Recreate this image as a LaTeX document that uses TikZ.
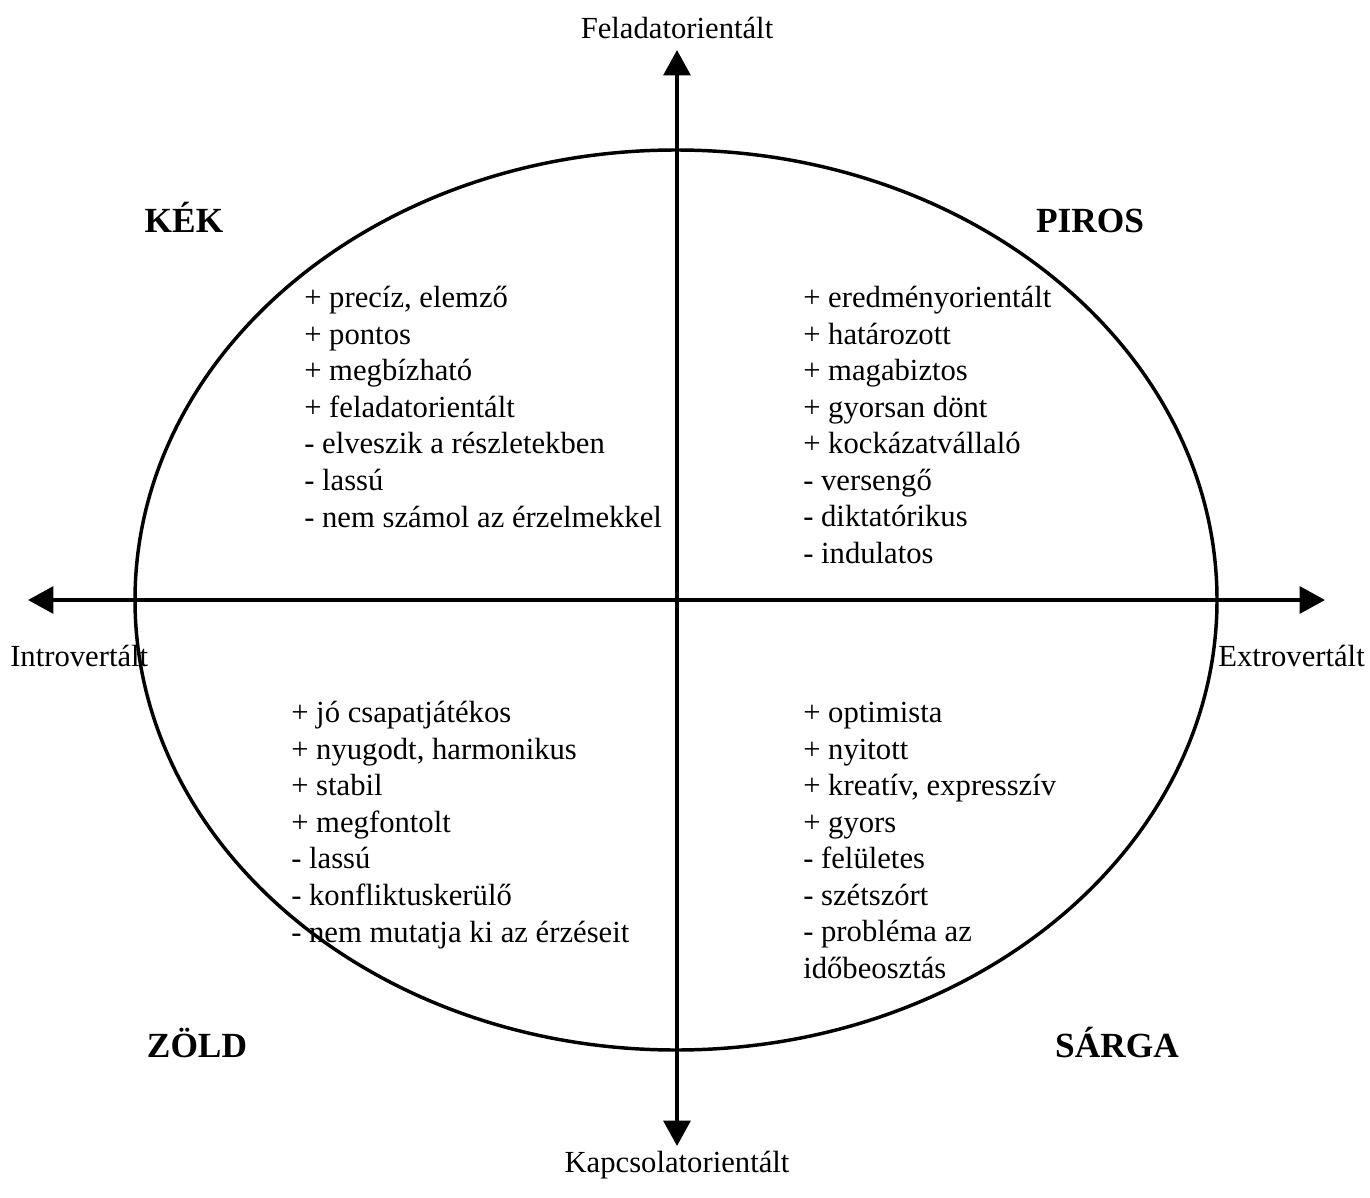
\documentclass[tikz,border=0pt]{standalone}
\usepackage{fontspec}
\setmainfont{Liberation Serif}
\usetikzlibrary{arrows.meta}
\begin{document}
\begin{tikzpicture}[x=0.75pt,y=-0.75pt,
  axis/.style={line width=3pt, -{Triangle[length=19pt,width=20pt]}},
  oval/.style={line width=2.6pt},
  lbl/.style={inner sep=0pt, font=\fontsize{23}{27}\selectfont},
  head/.style={inner sep=0pt, anchor=base, font=\fontsize{26.5}{30}\selectfont\bfseries},
  list/.style={inner sep=0pt, anchor=base west, align=left, font=\fontsize{23}{27.4}\selectfont}]
\useasboundingbox (0,0) rectangle (1370,1198);
% ellipse
\draw[oval] (676,600) ellipse [x radius=541, y radius=450];
% axes
\coordinate (top) at (677,50);
\coordinate (bot) at (677,1146);
\coordinate (left) at (28,600);
\coordinate (right) at (1325,600);
\coordinate (c) at (677,600);
\draw[axis] (c) -- (top);
\draw[axis] (c) -- (bot);
\draw[axis] (c) -- (left);
\draw[axis] (c) -- (right);
% axis labels
\node[lbl] (fel) at (677,28) {Feladatorientált};
\node[lbl] (kap) at (677,1165) {Kapcsolatorientált};
\node[lbl, anchor=west] (intro) at (10,656) {Introvertált};
\node[lbl, anchor=east] (extro) at (1365,656) {Extrovertált};
% headings
\node[head] (kek) at (184,233) {KÉK};
\node[head] (piros) at (1090,233) {PIROS};
\node[head] (zold) at (197,1057) {ZÖLD};
\node[head] (sarga) at (1117,1057) {SÁRGA};
% lists (anchor = baseline of last line)
\node[list] (tl) at (304,527) {+ precíz, elemző\\+ pontos\\+ megbízható\\+ feladatorientált\\- elveszik a részletekben\\- lassú\\- nem számol az érzelmekkel};
\node[list] (tr) at (803,563.5) {+ eredményorientált\\+ határozott\\+ magabiztos\\+ gyorsan dönt\\+ kockázatvállaló\\- versengő\\- diktatórikus\\- indulatos};
\node[list] (bl) at (291,942) {+ jó csapatjátékos\\+ nyugodt, harmonikus\\+ stabil\\+ megfontolt\\- lassú\\- konfliktuskerülő\\- nem mutatja ki az érzéseit};
\node[list] (br) at (803,978.5) {+ optimista\\+ nyitott\\+ kreatív, expresszív\\+ gyors\\- felületes\\- szétszórt\\- probléma az\\időbeosztás};
\end{tikzpicture}
\end{document}
